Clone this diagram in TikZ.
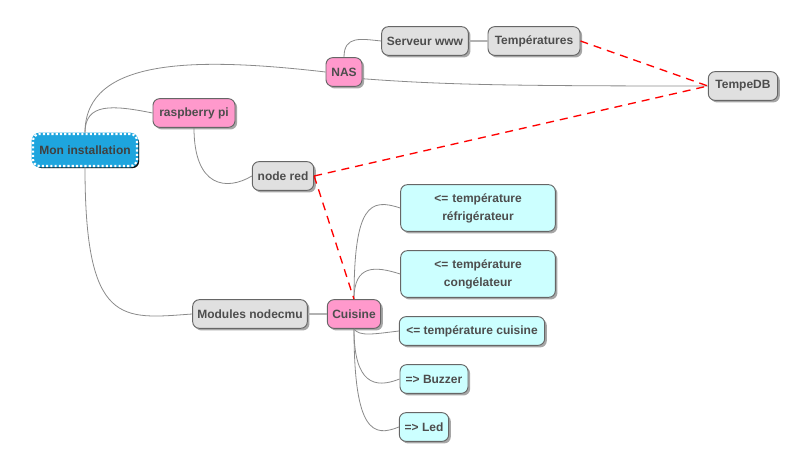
\documentclass[tikz,border=0pt]{standalone}
\usepackage{fontspec}
\setmainfont{Liberation Sans}
\usepackage{tikz}
\usetikzlibrary{calc, shapes, shadows}
\definecolor{pinkbox}{HTML}{FF99CC}
\definecolor{greybox}{HTML}{E0E0E0}
\definecolor{cyanbox}{HTML}{CCFFFF}
\definecolor{rootblue}{HTML}{1EA5DE}
\definecolor{edgegrey}{HTML}{666666}
\definecolor{txtgrey}{HTML}{4D4D4D}
\definecolor{linegrey}{HTML}{8A8A8A}

\begin{document}
\begin{tikzpicture}[x=0.75pt, y=-0.75pt,
	box/.style={draw=edgegrey, line width=0.7pt, rounded corners=5pt,
		minimum height=21.5pt, inner xsep=3pt, inner ysep=2pt,
		text=txtgrey, font=\fontsize{9}{13.5}\selectfont\bfseries,
		drop shadow={shadow xshift=1.6pt, shadow yshift=-1.6pt, opacity=0.35, fill=black}},
	pinkn/.style={box, fill=pinkbox},
	greyn/.style={box, fill=greybox},
	cyann/.style={box, fill=cyanbox},
	twoline/.style={cyann, text width=110pt, align=center, minimum height=35pt},
	rootn/.style={box, fill=rootblue, draw=rootblue, line width=2pt,
		minimum height=24pt, text=black!75,
		drop shadow={shadow xshift=1.6pt, shadow yshift=-1.6pt, opacity=0.9, fill=black},
		postaction={draw=white, line width=1.6pt, dash pattern=on 1.6pt off 1.6pt}},
	branch/.style={draw=linegrey, line width=0.6pt},
	thickbranch/.style={draw=black!30, line width=1.5pt},
	link/.style={draw=red, line width=1pt, dash pattern=on 6pt off 4.5pt}]

\useasboundingbox (0,0) rectangle (802,460);

\node[rootn, minimum width=78pt] (mon) at (85,150) {Mon installation};
\node[pinkn, minimum width=61.5pt] (rpi) at (194,113) {raspberry pi};
\node[pinkn, minimum width=27pt] (nas) at (344,72) {NAS};
\node[greyn, minimum width=65pt] (srv) at (425,41) {Serveur www};
\node[greyn, minimum width=69pt] (temp) at (534,41) {Températures};
\node[greyn, minimum width=52pt] (tdb) at (743,86) {TempeDB};
\node[greyn, minimum width=46pt] (nred) at (283,176) {node red};
\node[greyn, minimum width=86pt] (mod) at (250,314) {Modules nodecmu};
\node[pinkn, minimum width=40pt] (cui) at (354,314) {Cuisine};

\node[twoline] (refr) at (478,208) {<= température\\réfrigérateur};
\node[twoline] (cong) at (478,274) {<= température\\congélateur};
\node[cyann, minimum width=109pt] (tcui) at (472,331) {<= température cuisine};
\node[cyann, minimum width=51pt] (buz) at (434,379) {=> Buzzer};
\node[cyann, minimum width=37pt] (led) at (424,427) {=> Led};

\draw[branch] (mon.north) .. controls +(0,-75) and +(-130,-15) .. (nas.west);
\draw[branch] (mon.north) .. controls +(0,-30) and +(-40,-8) .. (rpi.west);
\draw[branch] (mon.south) .. controls +(0,160) and +(-70,5) .. (mod.west);
\draw[branch] (rpi.south) .. controls +(0,60) and +(-25,15) .. (nred.west);
\draw[branch] (nas.north) .. controls +(0,-22) and +(-20,-2) .. (srv.west);
\draw[branch] (nas.-20) .. controls +(80,6) and +(-200,0) .. (tdb.west);
\draw[thickbranch] (srv.east) -- (temp.west);
\draw[thickbranch] (mod.east) -- (cui.west);

\draw[branch] (cui.north) .. controls +(0,-95) and +(-30,-10) .. (refr.west);
\draw[branch] (cui.north) .. controls +(0,-35) and +(-25,-8) .. (cong.west);
\draw[branch] (cui.south) .. controls +(5,8) and +(-25,3) .. (tcui.west);
\draw[branch] (cui.south) .. controls +(0,55) and +(-25,10) .. (buz.west);
\draw[branch] (cui.south) .. controls +(0,105) and +(-25,10) .. (led.west);

\draw[link] (temp.east) -- (tdb.west);
\draw[link] (nred.east) -- (tdb.west);
\draw[link] (nred.east) -- (cui.north);

\end{tikzpicture}
\end{document}
